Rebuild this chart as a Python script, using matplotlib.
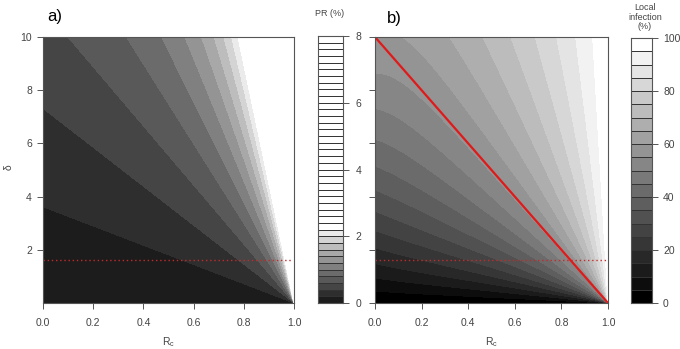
import numpy as np
import matplotlib
matplotlib.use("Agg")
import matplotlib.pyplot as plt

plt.rcParams['font.family'] = ['Liberation Sans', 'DejaVu Sans']

# ---- data / model parameters ----
rc_ticks = [0.0, 0.2, 0.4, 0.6, 0.8, 1.0]
rc_tick_labels = ["0.0", "0.2", "0.4", "0.6", "0.8", "1.0"]
delta_ticks_a = [2, 4, 6, 8, 10]
delta_ticks_b = [0, 2, 4, 6, 8, 10]

pr_levels = np.round(np.arange(0, 8.0001, 0.2), 2)          # PR (%) bands
pr_grays = [0.11, 0.18, 0.27, 0.35, 0.42, 0.50, 0.58, 0.66, 0.74, 0.83, 0.92]
pr_cb_ticks = [0, 2, 4, 6, 8]

li_levels = np.arange(0, 100.001, 5)                         # local infection (%) bands
li_grays = list(np.linspace(0.0, 1.0, 20))
li_cb_ticks = [0, 20, 40, 60, 80, 100]

pr_scale = 17.9        # r / PR intercept
pr_curv = 0.055        # r / PR slope
li_half = 8.0          # ratio at which local infection = 50%
li_edge_a = 8.7        # near Rc = 0 correction
li_edge_b = 0.19
li_edge_w = 0.12

threshold_delta = 1.6  # dotted red line
red_line_rc = [0.0, 1.0]
red_line_delta = [10.0, 0.0]

# ---- grids ----
rc = np.linspace(0, 1, 801)
dl = np.linspace(0, 10, 501)
RC, DL = np.meshgrid(rc, dl)
R = DL / np.maximum(1 - RC, 1e-9)
PR = R / (pr_scale + pr_curv * R)
PR = np.clip(PR, 0, 7.999)
c0 = li_edge_a - li_edge_b * DL
C = li_half + (c0 - li_half) * np.exp(-RC / li_edge_w)
LI = 100 * R / (R + C)
LI = np.clip(LI, 0, 99.999)

W, H = 680, 349
fig = plt.figure(figsize=(6.8, 3.49), dpi=100)

def box(x0, y0, x1, y1):
    return [x0 / W, 1 - y1 / H, (x1 - x0) / W, (y1 - y0) / H]

axis_col = '#555555'
lab_col = '#444444'
fs = 7.5

pr_colors = [str(g) for g in pr_grays] + ['white'] * (len(pr_levels) - 1 - len(pr_grays))
li_colors = [str(g) for g in li_grays]

def style(ax):
    for s in ax.spines.values():
        s.set_color(axis_col)
        s.set_linewidth(0.8)
    ax.tick_params(direction='out', length=4, width=0.7, color=axis_col,
                   labelcolor=lab_col, labelsize=fs)

# ---- panel a ----
axa = fig.add_axes(box(43, 37, 294, 303))
axa.contourf(RC, DL, PR, levels=pr_levels, colors=pr_colors)
axa.plot([0, 0.99], [threshold_delta] * 2, color='#c42a2a', lw=1.0, ls=(0, (1, 2)))
axa.set_xlim(0, 1); axa.set_ylim(0, 10)
axa.set_xticks(rc_ticks); axa.set_xticklabels(rc_tick_labels)
axa.set_yticks(delta_ticks_a)
style(axa)
axa.tick_params(axis='x', pad=7)
axa.tick_params(axis='y', pad=4)
fig.text(47 / W, 1 - 17 / H, "a)", fontsize=12, va='center', ha='left')
fig.text(168 / W, 1 - 342 / H, r"R$_\mathregular{c}$", fontsize=fs, color=lab_col,
         ha='center', va='center')
fig.text(9 / W, 1 - 167 / H, "δ", fontsize=fs, color=lab_col, rotation=90,
         ha='center', va='center')

# ---- colourbar a ----
cba = fig.add_axes(box(318, 36, 343, 303))
step = pr_levels[1] - pr_levels[0]
cba.bar(0.5, step, bottom=pr_levels[:-1], width=1, color=pr_colors,
        edgecolor='#333333', linewidth=0.7)
cba.set_xlim(0, 1); cba.set_ylim(0, 8)
cba.set_xticks([])
cba.yaxis.tick_right()
cba.set_yticks(pr_cb_ticks)
style(cba)
cba.tick_params(axis='y', pad=5, labelsize=7.5)
fig.text(330 / W, 1 - 14 / H, "PR (%)", fontsize=6.5, color=lab_col, ha='center', va='center')

# ---- panel b ----
axb = fig.add_axes(box(375, 37, 608, 303))
axb.contourf(RC, DL, LI, levels=li_levels, colors=li_colors)
axb.plot([0, 0.99], [threshold_delta] * 2, color='#c42a2a', lw=1.0, ls=(0, (1, 2)))
axb.plot(red_line_rc, red_line_delta, color='#e01a1a', lw=1.6)
axb.set_xlim(0, 1); axb.set_ylim(0, 10)
axb.set_xticks(rc_ticks); axb.set_xticklabels(rc_tick_labels)
axb.set_yticks(delta_ticks_b); axb.set_yticklabels([])
style(axb)
axb.tick_params(axis='x', pad=7)
fig.text(387 / W, 1 - 19 / H, "b)", fontsize=12, va='center', ha='left')
fig.text(491 / W, 1 - 342 / H, r"R$_\mathregular{c}$", fontsize=fs, color=lab_col,
         ha='center', va='center')

# ---- colourbar b ----
cbb = fig.add_axes(box(631, 38, 652, 303))
lstep = li_levels[1] - li_levels[0]
cbb.bar(0.5, lstep, bottom=li_levels[:-1], width=1, color=li_colors,
        edgecolor='#333333', linewidth=0.7)
cbb.set_xlim(0, 1); cbb.set_ylim(0, 100)
cbb.set_xticks([])
cbb.yaxis.tick_right()
cbb.set_yticks(li_cb_ticks)
style(cbb)
cbb.tick_params(axis='y', pad=4, labelsize=7.5)
fig.text(645 / W, 1 - 17 / H, "Local\ninfection\n(%)", fontsize=6.5, color=lab_col,
         ha='center', va='center', linespacing=1.05)

fig.savefig("out.png", dpi=100)
